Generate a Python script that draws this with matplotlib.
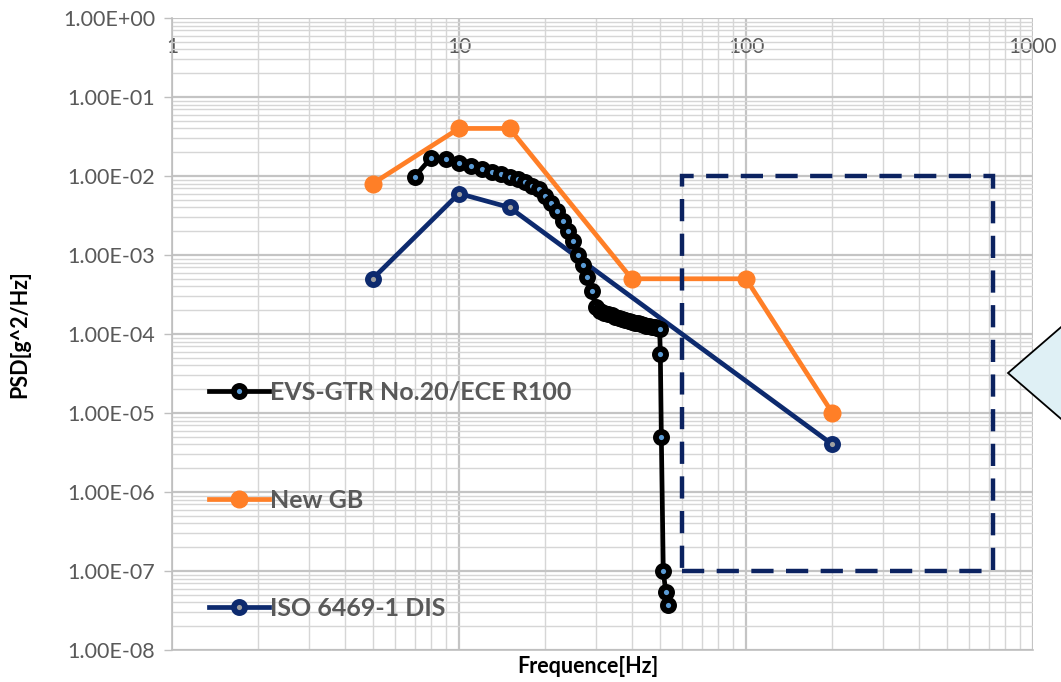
import matplotlib
matplotlib.use('Agg')
import matplotlib.pyplot as plt
import matplotlib.ticker as mticker
from matplotlib.patches import Rectangle, Polygon
import numpy as np

plt.rcParams['font.family'] = ['Lato', 'DejaVu Sans']

# EVS-GTR No.20 / ECE R100 profile
evs_freq = [7, 8, 9, 10, 11, 12, 13, 14, 15, 16, 17, 18, 19, 20, 21, 22, 23, 24, 25,
            26, 27, 28, 29, 30, 31, 32, 33, 34, 35, 36, 37, 38, 39, 40, 41, 42, 43,
            44, 45, 46, 47, 48, 49, 50, 50.3, 50.7, 51.5, 52.5, 53.5]
evs_psd = [9.8e-3, 1.7e-2, 1.65e-2, 1.45e-2, 1.32e-2, 1.22e-2, 1.12e-2, 1.05e-2, 9.8e-3,
           9.1e-3, 8.4e-3, 7.5e-3, 6.8e-3, 5.6e-3, 4.5e-3, 3.6e-3, 2.7e-3, 2.0e-3, 1.5e-3,
           1.0e-3, 7.5e-4, 5.2e-4, 3.5e-4, 2.2e-4, 1.95e-4, 1.85e-4, 1.78e-4, 1.72e-4,
           1.66e-4, 1.6e-4, 1.55e-4, 1.5e-4, 1.46e-4, 1.42e-4, 1.39e-4, 1.36e-4, 1.33e-4,
           1.3e-4, 1.27e-4, 1.25e-4, 1.23e-4, 1.21e-4, 1.19e-4, 1.17e-4,
           5.6e-5, 5.0e-6, 1.0e-7, 5.5e-8, 3.7e-8]

# New GB
gb_freq = [5, 10, 15, 40, 100, 200]
gb_psd = [8e-3, 4e-2, 4e-2, 5e-4, 5e-4, 1e-5]

# ISO 6469-1 DIS
iso_freq = [5, 10, 15, 200]
iso_psd = [5e-4, 6e-3, 4e-3, 4e-6]

labels = ['EVS-GTR No.20/ECE R100', 'New GB', 'ISO 6469-1 DIS']
colors = ['black', '#ff7f27', '#0d2a6e']

# highlighted region (Hz, g^2/Hz)
box_f = [60, 725]
box_p = [1e-7, 1e-2]

W, H = 1061, 682
fig = plt.figure(figsize=(W / 100, H / 100), dpi=100)
ax = fig.add_axes([172 / W, 1 - 650 / H, (1033 - 172) / W, (650 - 18) / H])

ax.plot(evs_freq, evs_psd, color=colors[0], lw=3.4, marker='o', ms=8,
        mfc='#5b9bd5', mec='black', mew=4.2, label=labels[0], zorder=4)
ax.plot(gb_freq, gb_psd, color=colors[1], lw=3.4, marker='o', ms=12,
        mfc=colors[1], mec=colors[1], label=labels[1], zorder=3)
ax.plot(iso_freq, iso_psd, color=colors[2], lw=3.4, marker='o', ms=8,
        mfc='#a0a0a0', mec=colors[2], mew=4.2, label=labels[2], zorder=3)

ax.add_patch(Rectangle((box_f[0], box_p[0]), box_f[1] - box_f[0], box_p[1] - box_p[0],
                       fill=False, ec='#0b2260', lw=3.2, ls=(0, (5, 2.8)), zorder=5))

ax.set_xscale('log')
ax.set_yscale('log')
ax.set_xlim(1, 1000)
ax.set_ylim(1e-8, 1)

ax.yaxis.set_major_locator(mticker.LogLocator(base=10, numticks=12))
ax.yaxis.set_minor_locator(mticker.LogLocator(base=10, subs=np.arange(2, 10), numticks=12))
ax.yaxis.set_major_formatter(mticker.FuncFormatter(lambda v, p: '%.2E' % v))
ax.xaxis.set_major_locator(mticker.FixedLocator([1, 10, 100, 1000]))
ax.xaxis.set_minor_locator(mticker.LogLocator(base=10, subs=np.arange(2, 10), numticks=12))
ax.xaxis.set_major_formatter(mticker.FuncFormatter(lambda v, p: '%d' % v))
ax.yaxis.set_minor_formatter(mticker.NullFormatter())
ax.xaxis.set_minor_formatter(mticker.NullFormatter())

ax.grid(which='major', color='#c4c4c4', lw=1.6)
ax.grid(which='minor', color='#d6d6d6', lw=1.0)
ax.set_axisbelow(True)

ax.tick_params(axis='y', which='major', direction='out', length=6, width=1,
               color='#bfbfbf', labelsize=15.5, labelcolor='#595959', pad=6)
ax.tick_params(axis='y', which='minor', length=0)
ax.tick_params(axis='x', which='both', bottom=False, labelbottom=False, top=False,
               labeltop=True, length=0, labelsize=15, labelcolor='#595959', pad=-28)

for s in ['top', 'right']:
    ax.spines[s].set_visible(False)
for s in ['left', 'bottom']:
    ax.spines[s].set_color('#bfbfbf')
    ax.spines[s].set_linewidth(1.2)

ax.set_ylabel('PSD[g^2/Hz]', fontsize=15.5, fontweight='bold')
ax.yaxis.set_label_coords((30 - 172) / 861, 0.5)
ax.set_xlabel('Frequence[Hz]', fontsize=15.5, fontweight='bold')
ax.xaxis.set_label_coords(0.483, -(656 - 650) / 632)
ax.xaxis.label.set_va('top')

leg = ax.legend(loc='upper left', bbox_to_anchor=(0.017, 0.462), frameon=False,
                handlelength=2.4, handletextpad=0.05, labelspacing=3.4,
                prop={'size': 18, 'weight': 'bold'})
for t in leg.get_texts():
    t.set_color('#595959')

# callout pointer on the right edge
tri = Polygon([(1008 / W, 1 - 373 / H), (1.01, 1 - 318 / H), (1.01, 1 - 428 / H)],
              closed=True, transform=fig.transFigure, fc='#dff0f5', ec='black', lw=1.3,
              clip_on=False)
fig.patches.append(tri)

fig.savefig('out.png', dpi=100)
